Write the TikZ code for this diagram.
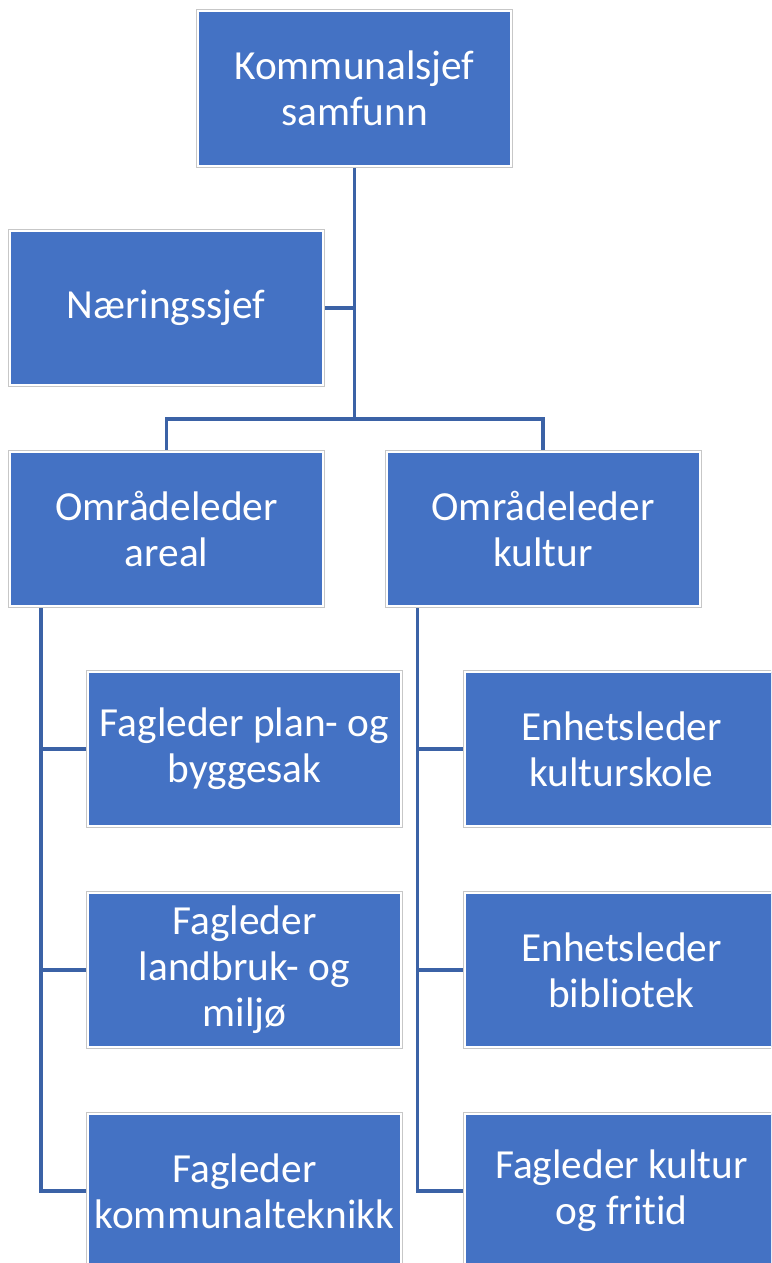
\documentclass[tikz,border=0pt]{standalone}
\usepackage{fontspec}
\setmainfont{Carlito}[Ligatures=NoCommon]
\usetikzlibrary{backgrounds}
\definecolor{boxblue}{HTML}{4472C4}
\definecolor{linkblue}{HTML}{3B62A6}
\tikzset{
  orgbox/.style={rectangle, fill=boxblue, draw=white, line width=1.5pt,
    preaction={draw=black!22, line width=3pt},
    minimum width=234.75pt, minimum height=115.5pt, inner sep=0pt,
    align=center, text=white, font=\fontsize{31}{34.5}\selectfont},
  link/.style={draw=linkblue, line width=2.3pt}
}
\begin{document}
\begin{tikzpicture}[x=0.75pt,y=-0.75pt]
\useasboundingbox (0,0) rectangle (771,1263);
\clip (0,0) rectangle (771,1263);
\node[orgbox] (top) at (354.5,88.5) {Kommunalsjef\\samfunn};
\node[orgbox] (naer) at (166,308) {Næringssjef};
\node[orgbox] (areal) at (166.5,529) {Områdeleder\\areal};
\node[orgbox] (kultur) at (543,529) {Områdeleder\\kultur};
\node[orgbox] (plan) at (244.5,749) {Fagleder plan- og\\byggesak};
\node[orgbox] (landbruk) at (244.5,970) {Fagleder\\landbruk- og\\miljø};
\node[orgbox] (kommtek) at (244.5,1191) {Fagleder\\kommunalteknikk};
\node[orgbox] (skole) at (621.5,749) {Enhetsleder\\kulturskole};
\node[orgbox] (bibl) at (621.5,970) {Enhetsleder\\bibliotek};
\node[orgbox] (fritid) at (621.5,1191) {Fagleder kultur\\og fritid};
\begin{scope}[on background layer]
\coordinate (j) at (top.south |- 0,419);
\draw[link] (top.south) -- (j);
\draw[link] (naer.east) -- (naer.east -| top.south);
\draw[link] (areal.north) |- (j) -| (kultur.north);
\coordinate (la) at ([xshift=24pt]areal.south west);
\coordinate (ka) at ([xshift=24pt]kultur.south west);
\draw[link] (la) |- (kommtek.west);
\draw[link] (plan.west) -- (plan.west -| la);
\draw[link] (landbruk.west) -- (landbruk.west -| la);
\draw[link] (ka) |- (fritid.west);
\draw[link] (skole.west) -- (skole.west -| ka);
\draw[link] (bibl.west) -- (bibl.west -| ka);
\end{scope}
\end{tikzpicture}
\end{document}
